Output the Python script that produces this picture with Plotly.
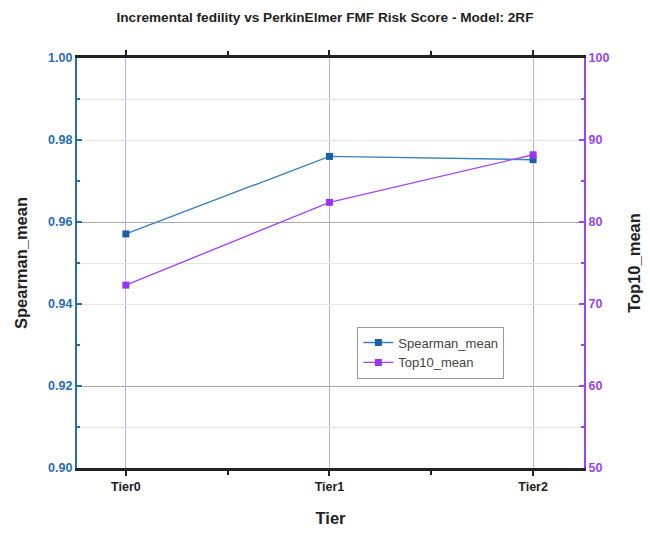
import plotly.graph_objects as go

tiers = ["Tier0", "Tier1", "Tier2"]
spearman_mean = [0.9571, 0.9760, 0.9752]
top10_mean = [72.3, 82.4, 88.2]

x_idx = list(range(len(tiers)))

BLUE_AX = "#2a6cb0"
PURPLE_AX = "#9446f0"
FONT = "Liberation Sans, Arial, sans-serif"

fig = go.Figure()
# helper traces so the overlay grid axes get drawn
fig.add_trace(go.Scatter(x=[None], y=[None], yaxis="y3", showlegend=False, hoverinfo="skip"))
fig.add_trace(go.Scatter(x=[None], y=[None], yaxis="y4", showlegend=False, hoverinfo="skip"))
fig.add_trace(go.Scatter(
    x=x_idx, y=spearman_mean, name="Spearman_mean", mode="lines+markers",
    line=dict(color="#3a82c0", width=1.4),
    marker=dict(symbol="square", size=7, color="#1a5fa8"),
    yaxis="y"))
fig.add_trace(go.Scatter(
    x=x_idx, y=top10_mean, name="Top10_mean", mode="lines+markers",
    line=dict(color="#a446f2", width=1.4),
    marker=dict(symbol="square", size=7, color="#9a34f0"),
    yaxis="y2"))

fig.update_layout(
    width=650, height=533,
    margin=dict(l=77, r=66, t=58, b=65),
    paper_bgcolor="white", plot_bgcolor="white",
    font=dict(family=FONT, color="#222"),
    title=dict(text="<b>Incremental fedility vs PerkinElmer FMF Risk Score - Model: 2RF</b>",
               x=0.5, xanchor="center", y=0.967, yanchor="middle",
               font=dict(size=13.6, color="#222")),
    showlegend=True,
    legend=dict(x=0.553, y=0.345, xanchor="left", yanchor="top",
                bgcolor="white", bordercolor="#999", borderwidth=1,
                font=dict(size=13, color="#444"), tracegroupgap=0,
                itemwidth=30),
    xaxis=dict(
        range=[-0.24, 2.25], tickvals=x_idx, ticktext=tiers,
        showgrid=True, gridcolor="#c4a8f8", gridwidth=1,
        zeroline=False, automargin=False,
        showline=True, linecolor="#222", linewidth=2.5, mirror="ticks",
        ticks="outside", ticklen=5, tickwidth=1.5, tickcolor="#222",
        minor=dict(tickvals=[0.5, 1.5], ticks="outside", ticklen=4, tickcolor="#222", showgrid=False),
        tickfont=dict(size=12.5, color="#222", family=FONT, weight="bold"),
        title=dict(text="<b>Tier</b>", font=dict(size=16.5, color="#222"), standoff=20),
    ),
    yaxis=dict(
        range=[0.90, 1.00], dtick=0.02, tick0=0.90, tickformat=".2f",
        showgrid=True, gridcolor="#e4e4e4", gridwidth=1,
        zeroline=False, automargin=False,
        showline=True, linecolor=BLUE_AX, linewidth=2.2,
        ticks="inside", ticklen=5, tickwidth=1.5, tickcolor=BLUE_AX,
        minor=dict(dtick=0.01, ticks="inside", ticklen=3, tickcolor=BLUE_AX, showgrid=False),
        tickfont=dict(size=12.5, color=BLUE_AX, family=FONT, weight="bold"),
        title=dict(text="<b>Spearman_mean</b>", font=dict(size=16.5, color="#222"), standoff=16),
    ),
    yaxis2=dict(
        range=[50, 100], dtick=10, overlaying="y", side="right",
        showgrid=False, zeroline=False, automargin=False,
        showline=True, linecolor=PURPLE_AX, linewidth=2.2,
        ticks="inside", ticklen=5, tickwidth=1.5, tickcolor=PURPLE_AX,
        minor=dict(dtick=5, ticks="inside", ticklen=3, tickcolor=PURPLE_AX, showgrid=False),
        tickfont=dict(size=12.5, color=PURPLE_AX, family=FONT, weight="bold"),
        title=dict(text="<b>Top10_mean</b>", font=dict(size=16.5, color="#222"), standoff=20),
    ),
    yaxis3=dict(
        range=[0.90, 1.00], overlaying="y", tick0=0.91, dtick=0.04,
        showgrid=True, gridcolor="#e4e4e4", gridwidth=1, automargin=False,
        showticklabels=False, ticks="", zeroline=False, showline=False,
    ),
    yaxis4=dict(
        range=[0.90, 1.00], overlaying="y", tick0=0.92, dtick=0.04,
        showgrid=True, gridcolor="#a8a8a8", gridwidth=1, automargin=False,
        showticklabels=False, ticks="", zeroline=False, showline=False,
    ),
)

fig.write_html("out.html")
